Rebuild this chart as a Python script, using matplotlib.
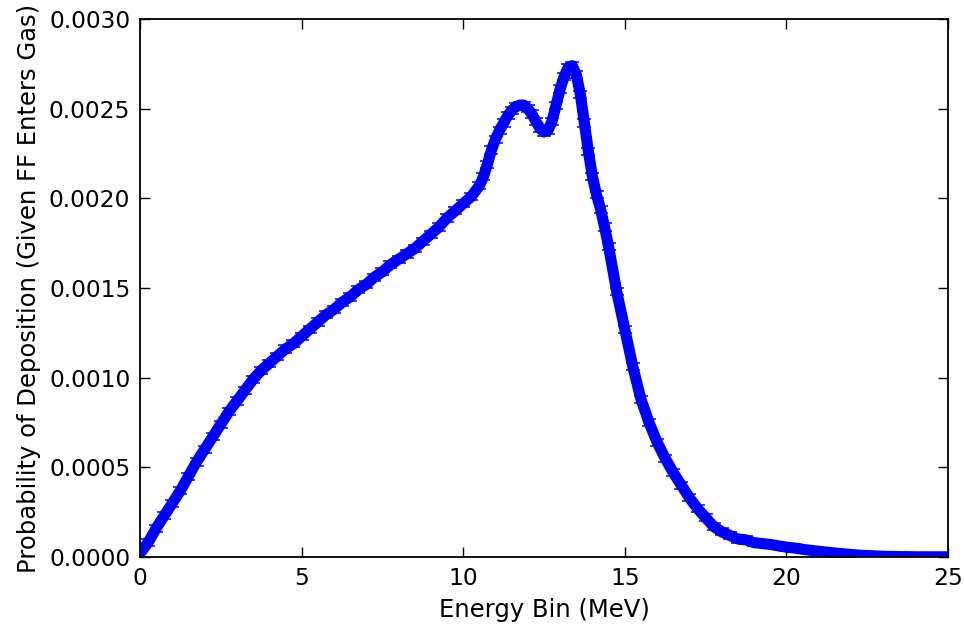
import matplotlib
matplotlib.use("Agg")
import matplotlib.pyplot as plt

energy = [0.0, 0.25, 0.5, 0.75, 1.0, 1.25, 1.5, 1.75, 2.0, 2.25, 2.5, 2.75, 3.0, 3.25, 3.5, 3.75,
          4.0, 4.25, 4.5, 4.75, 5.0, 5.25, 5.5, 5.75, 6.0, 6.25, 6.5, 6.75, 7.0, 7.25, 7.5, 7.75,
          8.0, 8.25, 8.5, 8.75, 9.0, 9.25, 9.5, 9.75, 10.0, 10.25,
          10.5, 10.625, 10.75, 10.875, 11.0, 11.125, 11.25, 11.375, 11.5, 11.625, 11.75, 11.875,
          12.0, 12.125, 12.25, 12.375, 12.5, 12.625, 12.75, 12.875, 13.0, 13.125, 13.25, 13.375,
          13.5, 13.625, 13.75, 13.875, 14.0, 14.125, 14.25, 14.375, 14.5,
          14.75, 15.0, 15.25, 15.5, 15.75,
          16.0, 16.25, 16.5, 16.75, 17.0, 17.25, 17.5, 17.75, 18.0, 18.25, 18.5, 18.75, 19.0, 19.25, 19.5, 19.75,
          20.0, 20.25, 20.5, 20.75, 21.0, 21.25, 21.5, 21.75, 22.0, 22.25, 22.5, 22.75, 23.0, 23.25, 23.5, 23.75,
          24.0, 24.25, 24.5, 24.75, 25.0]
prob = [0.00002, 0.00008, 0.00016, 0.00023, 0.00030, 0.00037, 0.00045, 0.00053, 0.00060, 0.00067, 0.00074, 0.00081,
        0.00087, 0.00093, 0.00099, 0.00104, 0.00108, 0.00112, 0.00116, 0.00119, 0.00123, 0.00127, 0.00131, 0.00135,
        0.00138, 0.00142, 0.00145, 0.00149, 0.00152, 0.00156, 0.00159, 0.00163, 0.00166, 0.00169, 0.00172, 0.00176,
        0.00180, 0.00184, 0.00189, 0.00193, 0.00197, 0.00201,
        0.00207, 0.00212, 0.00219, 0.00227, 0.00233, 0.00238, 0.00242, 0.00246, 0.00249, 0.00251, 0.00252, 0.00252,
        0.00250, 0.00247, 0.00243, 0.00239, 0.00237, 0.00238, 0.00243, 0.00252, 0.00261, 0.00268, 0.00273, 0.00274,
        0.00269, 0.00258, 0.00242, 0.00226, 0.00212, 0.00202, 0.00194, 0.00184, 0.00173,
        0.00148, 0.00127, 0.00106, 0.00088, 0.00075,
        0.00064, 0.00055, 0.00047, 0.00040, 0.00033, 0.00027, 0.00022, 0.00017,
        0.00014, 0.00012, 0.00010, 0.000095, 0.00008, 0.000075, 0.00007, 0.000062,
        0.000055, 0.00005, 0.000043, 0.000037, 0.000032, 0.000027, 0.000022, 0.000018,
        0.000014, 0.00001, 0.000008, 0.000006, 0.000004, 0.000003, 0.000002, 0.000002,
        0.000001, 0.000001, 0.000001, 0.000001, 0.000001]
prob_err = [0.00002] * len(prob)

xticks = [0, 5, 10, 15, 20, 25]
yticks = [0.0, 0.0005, 0.0010, 0.0015, 0.0020, 0.0025, 0.0030]

plt.rcParams['font.family'] = ['DejaVu Sans']
fig = plt.figure(figsize=(9.64, 6.28), dpi=100)
ax = fig.add_axes([0.1452, 0.1131, 0.8382, 0.8566])

line, caps, bars = ax.errorbar(energy, prob, yerr=prob_err, fmt='-', color='#0000ff', lw=8,
                               elinewidth=1.0, capsize=5, capthick=1.2, ecolor='#1a1ad0')
line.set_solid_joinstyle('round')
line.set_solid_capstyle('round')

ax.set_xlim(0, 25)
ax.set_ylim(0, 0.0030)
ax.set_xticks(xticks)
ax.set_yticks(yticks)
ax.set_yticklabels([f"{v:.4f}" for v in yticks])
ax.tick_params(direction='in', top=True, right=True, length=7, width=1, labelsize=16.8, pad=7)
for s in ax.spines.values():
    s.set_linewidth(1.3)
ax.set_xlabel("Energy Bin (MeV)", fontsize=17.5, labelpad=6)
ax.set_ylabel("Probability of Deposition (Given FF Enters Gas)", fontsize=17.5, labelpad=6)

fig.savefig("out.png", dpi=100)
